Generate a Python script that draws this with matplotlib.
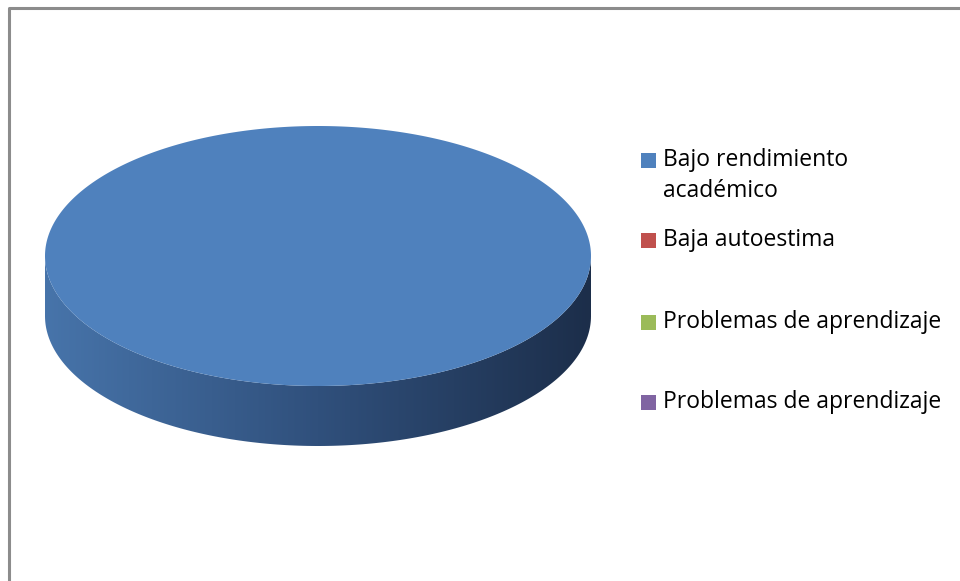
import numpy as np, matplotlib; matplotlib.use("Agg")
import matplotlib.pyplot as plt
from matplotlib.patches import Polygon, Rectangle
from matplotlib.colors import LinearSegmentedColormap

labels = ["Bajo rendimiento\nacadémico", "Baja autoestima",
          "Problemas de aprendizaje", "Problemas de aprendizaje"]
values = [100, 0, 0, 0]
colors = ["#4f81bd", "#c0504d", "#9bbb59", "#8064a2"]
side_stops = ["#4774aa", "#30507c", "#1c2e4a"]  # shading of the cylinder wall, left -> right

plt.rcParams["font.family"] = ["Open Sans", "DejaVu Sans"]
fig = plt.figure(figsize=(9.6, 5.81), dpi=100)
ax = fig.add_axes([0, 0, 1, 1])
ax.set_xlim(0, 960); ax.set_ylim(581, 0); ax.axis("off")

# outer chart border (cropped on the right and bottom)
ax.plot([9, 9, 960], [581, 8, 8], color="#8c8c8c", lw=2.2, solid_capstyle="butt")

cx, cy, a, b, depth = 318, 256, 273, 130, 60
def pt(t):
    return cx + a*np.cos(t), cy - b*np.sin(t)

frac = np.array(values, float)/sum(values)
edges = np.pi/2 - 2*np.pi*np.concatenate([[0], np.cumsum(frac)])  # clockwise from 12 o'clock
cmap = LinearSegmentedColormap.from_list("side", side_stops)
grad = np.linspace(0, 1, 256)[None, :]

for i, v in enumerate(values):
    if v <= 0: continue
    t1, t2 = edges[i+1], edges[i]
    ts = np.linspace(t1, t2, 400)
    front = ts[np.sin(ts) <= 0]  # visible wall = front half
    if len(front):
        xs, ys = pt(front)
        poly = np.column_stack([np.r_[xs, xs[::-1]], np.r_[ys, ys[::-1] + depth]])
        p = Polygon(poly, closed=True, fc="none", ec="none")
        ax.add_patch(p)
        im = ax.imshow(grad, cmap=cmap, extent=[cx-a, cx+a, cy+b+depth, cy-b],
                       aspect="auto", zorder=2)
        im.set_clip_path(p)
    xs, ys = pt(ts)
    top = np.column_stack([xs, ys]) if frac[i] >= 1 else np.column_stack([np.r_[cx, xs], np.r_[cy, ys]])
    ax.add_patch(Polygon(top, closed=True, fc=colors[i], ec="none", zorder=3))
ax.set_xlim(0, 960); ax.set_ylim(581, 0)

# legend
leg_y = [160, 240, 322, 402]
for lab, col, y in zip(labels, colors, leg_y):
    ax.add_patch(Rectangle((641, y-7), 15, 15, fc=col, ec="none"))
    ax.text(663, y - 12, lab, fontsize=16.5, va="top", ha="left",
            color="#000000", linespacing=1.38)

fig.savefig("out.png", dpi=100)
